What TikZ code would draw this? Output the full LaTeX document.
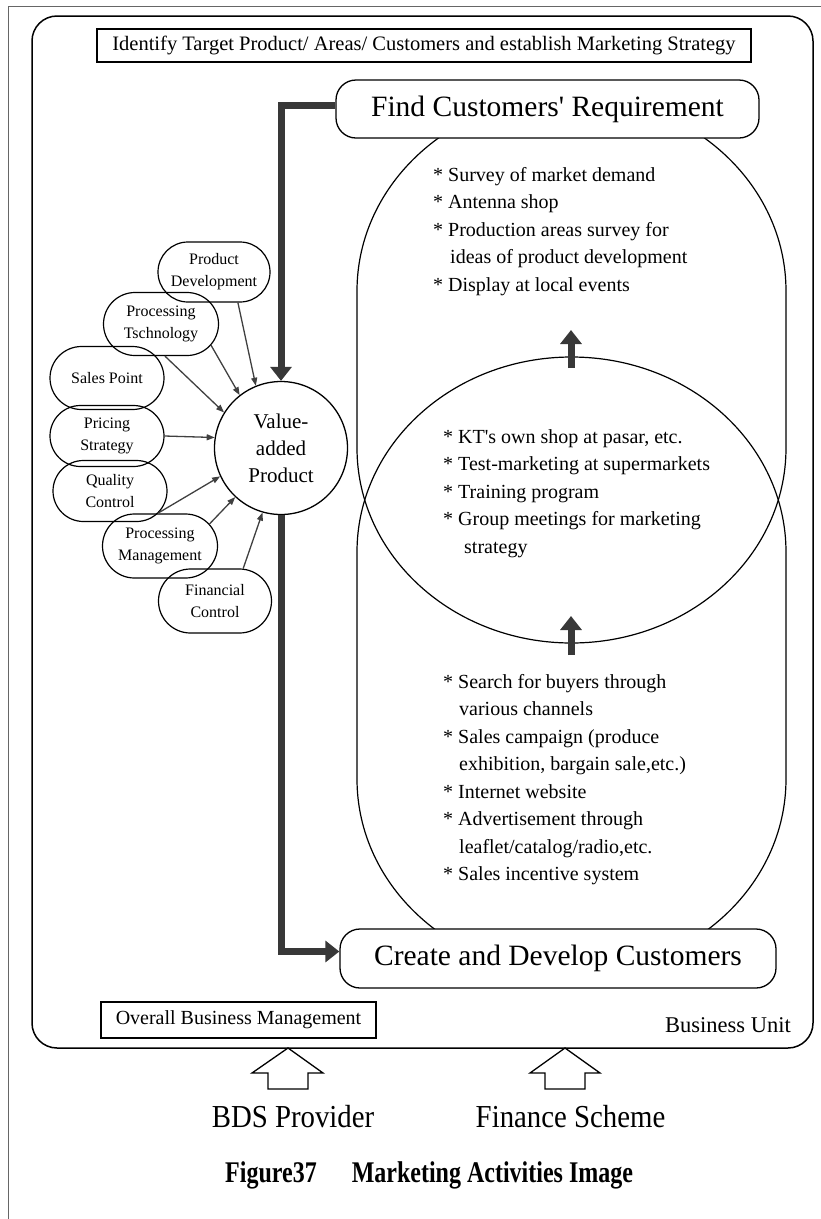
\documentclass[tikz,border=0pt]{standalone}
\usepackage{fontspec}
\setmainfont{Liberation Serif}
\newfontfamily\narrowserif[FakeStretch=0.9]{Liberation Serif}
\newfontfamily\captionserif[FakeStretch=0.8]{Liberation Serif}
\usetikzlibrary{arrows.meta,shapes.misc}
\newcommand\fsz[2]{\fontsize{#1}{#2}\selectfont}
\definecolor{heavy}{HTML}{383838}
\definecolor{thinline}{HTML}{404040}
\definecolor{pageline}{HTML}{666666}

\begin{document}
\begin{tikzpicture}[x=1pt,y=-1pt,
  frame/.style={draw,line width=1.5pt,rounded corners=25pt},
  headbox/.style={draw,line width=1.2pt,fill=white,inner sep=0pt},
  stagebox/.style={draw,line width=1.3pt,fill=white,rounded corners=20pt,inner sep=0pt,font=\fsz{29.5}{34}},
  factor/.style={draw,line width=1.2pt,rounded rectangle,inner sep=0pt,minimum height=62pt,minimum width=114pt,align=center,font=\fsz{16}{22}},
  core/.style={draw,line width=1.3pt,circle,minimum size=133pt,inner sep=0pt,align=center,font=\fsz{21}{27}},
  feed/.style={draw=thinline,line width=1.3pt,-{Triangle[length=8pt,width=6pt]}},
  flow/.style={draw=heavy,line width=7pt,-{Triangle[length=14pt,width=21pt]}},
  lens/.style={draw,line width=1.2pt},
  listtext/.style={anchor=north west,inner sep=0pt,align=left,font=\fsz{20}{27.5}},
  support/.style={draw,line width=1.3pt,fill=white,line join=miter}
]
\useasboundingbox (0,0) rectangle (821,1219);

% page rules
\draw[pageline,line width=1pt] (8,1219) -- (8,6) -- (821,6);

% business unit frame
\draw[frame] (32,16) rectangle (813,1048);

% the two overlapping activity fields
\draw[lens] (357,291) -- (357,448)
  arc[start angle=180,end angle=0,x radius=214.5,y radius=195]
  -- (786,291)
  arc[start angle=0,end angle=-180,x radius=214.5,y radius=195] -- cycle;
\draw[lens] (357,552) -- (357,779)
  arc[start angle=180,end angle=0,x radius=214.5,y radius=195]
  -- (786,552)
  arc[start angle=0,end angle=-180,x radius=214.5,y radius=195] -- cycle;

% headline boxes
\node[headbox,minimum width=654pt,minimum height=33pt,font=\fsz{20.5}{24}] (target) at (424,45.5)
  {Identify Target Product/ Areas/ Customers and establish Marketing Strategy};
\node[headbox,minimum width=275pt,minimum height=36pt,font=\fsz{20}{24}] (overall) at (238.5,1020)
  {Overall Business Management};

% stage boxes
\node[stagebox,minimum width=423pt,minimum height=58pt] (find) at (547.5,109)
  {Find Customers\textquotesingle\ Requirement};
\node[stagebox,minimum width=436pt,minimum height=59pt] (create) at (558,958.5)
  {Create and Develop Customers};

% activity lists
\node[listtext] (needs) at (433,161.75)
  {\strut{*} Survey of market demand\\{*} Antenna shop\\{*} Production areas survey for\\\hspace*{17pt}ideas of product development\\{*} Display at local events};
\node[listtext] (shops) at (443,423.75)
  {\strut{*} KT\textquotesingle s own shop at pasar, etc.\\{*} Test-marketing at supermarkets\\{*} Training program\\{*} Group meetings for marketing\\\hspace*{21pt}strategy};
\node[listtext] (promo) at (443,668.75)
  {\strut{*} Search for buyers through\\\hspace*{16pt}various channels\\{*} Sales campaign (produce\\\hspace*{16pt}exhibition, bargain sale,etc.)\\{*} Internet website\\{*} Advertisement through\\\hspace*{16pt}leaflet/catalog/radio,etc.\\{*} Sales incentive system};

% upward steps between the fields
\coordinate (stepAfrom) at (571,368);
\coordinate (stepAto) at (571,330);
\coordinate (stepBfrom) at (571,655);
\coordinate (stepBto) at (571,616);
\draw[flow] (stepAfrom) -- (stepAto);
\draw[flow] (stepBfrom) -- (stepBto);

% product factors
\node[factor,minimum width=112pt,minimum height=60pt] (pd) at (214,272) {Product\\Development};
\node[factor,minimum width=115pt,minimum height=63pt] (pt) at (161,324) {Processing\\Tschnology};
\node[factor,minimum height=63pt] (sp) at (107,378) {Sales Point};
\node[factor,minimum height=61pt] (ps) at (107,436) {Pricing\\Strategy};
\node[factor,minimum height=61pt] (qc) at (110,491) {Quality\\Control};
\node[factor,minimum width=115pt,minimum height=64pt] (pm) at (160,546) {Processing\\Management};
\node[factor,minimum width=113pt,minimum height=64pt] (fc) at (215,601) {Financial\\Control};

\node[core] (va) at (281,448) {Value-\\added\\Product};

\draw[feed] (pd.-52) -- (va.112);
\draw[feed] (pt.-23) -- (va.128);
\draw[feed] (pt.-83) -- (va.148);
\draw[feed] (ps.east) -- (va.171);
\draw[feed] (qc.-24) -- (va.205);
\draw[feed] (pm.24) -- (va.227);
\draw[feed] (fc.49) -- (va.254);

% main flow
\draw[flow] ([yshift=4pt]find.west) -| (va.north);
\draw[flow] (va.south) |- ([yshift=7pt]create.west);

% unit label
\node[anchor=base west,inner sep=0pt,font=\fsz{22.5}{26}] (unitname) at (665,1032) {Business Unit};

% outside support
\draw[support] (288,1048) -- (323,1073) -- (308,1073) -- (308,1089) -- (268,1089) -- (268,1073) -- (252,1073) -- cycle;
\draw[support] (565,1048) -- (600,1073) -- (585,1073) -- (585,1089) -- (545,1089) -- (545,1073) -- (530,1073) -- cycle;
\node[anchor=base,inner sep=0pt,font=\narrowserif\fsz{32}{36}] (bds) at (293,1127) {BDS Provider};
\node[anchor=base,inner sep=0pt,font=\narrowserif\fsz{32}{36}] (finance) at (570.5,1127) {Finance Scheme};

% caption
\node[anchor=base west,inner sep=0pt,font=\captionserif\bfseries\fsz{30}{34}] (caption) at (225,1182)
  {Figure37\hspace{35pt}Marketing Activities Image};
\end{tikzpicture}
\end{document}
